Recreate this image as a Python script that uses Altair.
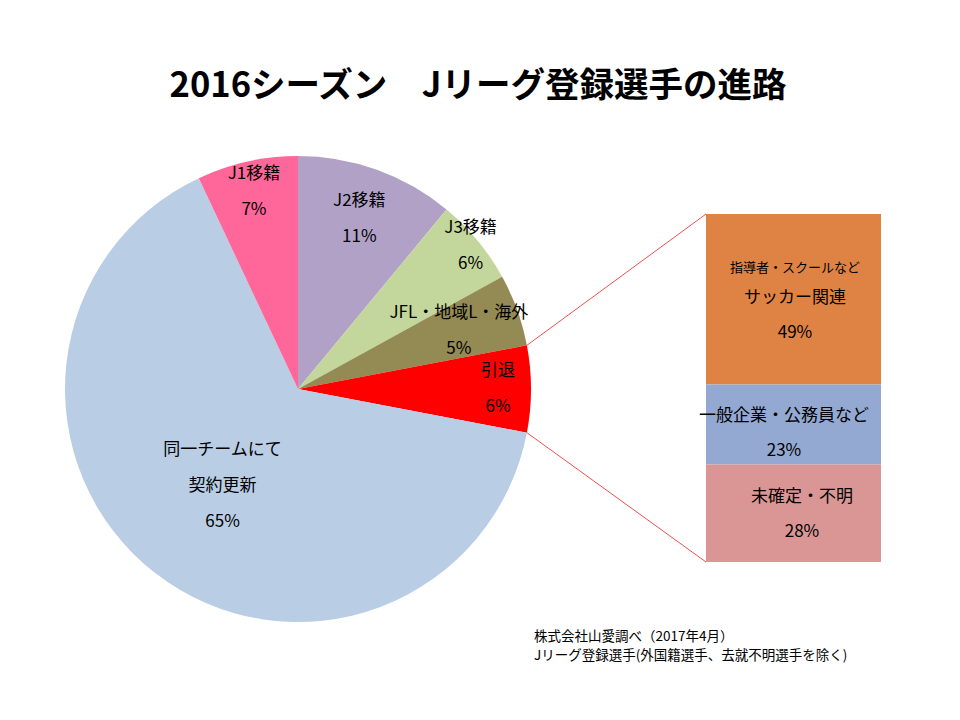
import math
import altair as alt
import pandas as pd

# ---- data ----
slice_names = ["J2移籍", "J3移籍", "JFL・地域L・海外", "引退", "同一チームにて契約更新", "J1移籍"]
slice_values = [11, 6, 5, 6, 65, 7]
slice_labels = ["J2移籍\n11%", "J3移籍\n6%", "JFL・地域L・海外\n5%", "引退\n6%",
                "同一チームにて\n契約更新\n65%", "J1移籍\n7%"]
slice_colors = ["#B2A1C7", "#C3D69B", "#948A54", "#FF0000", "#B9CDE5", "#FF6699"]

bar_names = ["サッカー関連", "一般企業・公務員など", "未確定・不明"]
bar_values = [49, 23, 28]
bar_labels = ["サッカー関連\n49%", "一般企業・公務員など\n23%", "未確定・不明\n28%"]
bar_sub_label = "指導者・スクールなど"
bar_colors = ["#DE8344", "#93A9D2", "#D99694"]

title_text = "2016シーズン\u3000Jリーグ登録選手の進路"
note_text = "株式会社山愛調べ（2017年4月）\nJリーグ登録選手(外国籍選手、去就不明選手を除く)"

# ---- layout ----
FONT = "Noto Sans CJK JP"
W, H = 944, 704
CX, CY, R = 290, 381, 233
label_radius = [181, 224, 171, 200, 123, 202]
LINE_H = 36
BAR_X = [698, 873]
BAR_Y = [206, 554]
bar_dx = [1.5, -9.5, 8.5]
bar_dy = [-1, -8.5, -16.3]

total = sum(slice_values)
pie_df = pd.DataFrame({
    "name": slice_names, "value": slice_values, "label": slice_labels,
    "idx": list(range(len(slice_names))), "lr": label_radius,
    "nl": [s.count("\n") + 1 for s in slice_labels],
})

pie = alt.Chart(pie_df).mark_arc(radius=R).encode(
    theta=alt.Theta("value:Q", stack=True),
    order=alt.Order("idx:Q"),
    color=alt.Color("name:N", scale=alt.Scale(domain=slice_names, range=slice_colors), legend=None),
    x=alt.value(CX), y=alt.value(CY),
)

pie_base = alt.Chart(pie_df).transform_window(
    cum="sum(value)", sort=[alt.SortField("idx")]
).transform_calculate(mid="datum.cum - datum.value / 2")

pie_texts = []
for n in sorted(set(pie_df["nl"])):
    pie_texts.append(
        pie_base.transform_filter(alt.datum.nl == n).mark_text(
            font=FONT, fontSize=17, color="#000000", lineBreak="\n", lineHeight=LINE_H,
            align="center", baseline="middle", dy=-(n - 1) * LINE_H / 2,
        ).encode(
            theta=alt.Theta("mid:Q", stack=False, scale=alt.Scale(domain=[0, total])),
            radius=alt.Radius("lr:Q", scale=None),
            text="label:N",
            x=alt.value(CX), y=alt.value(CY),
        )
    )

bar_df = pd.DataFrame({
    "name": bar_names, "value": bar_values, "label": bar_labels,
    "idx": list(range(len(bar_names))), "group": ["引退"] * len(bar_names),
})
xs = alt.Scale(range=BAR_X, paddingInner=0, paddingOuter=0)
ys = alt.Scale(domain=[0, 100], range=BAR_Y)

bar = alt.Chart(bar_df).mark_bar().encode(
    x=alt.X("group:N", scale=xs, axis=None),
    y=alt.Y("value:Q", stack=True, scale=ys, axis=None),
    order=alt.Order("idx:Q"),
    color=alt.Color("name:N", scale=alt.Scale(domain=bar_names, range=bar_colors), legend=None),
)

base_bt = alt.Chart(bar_df).transform_window(
    cum="sum(value)", sort=[alt.SortField("idx")]
).transform_calculate(mid="datum.cum - datum.value / 2")

bar_texts = []
for i, nm in enumerate(bar_names):
    bar_texts.append(
        base_bt.transform_filter(alt.datum.name == nm).mark_text(
            font=FONT, fontSize=17, color="#000000", lineBreak="\n", lineHeight=35,
            align="center", baseline="middle", dx=bar_dx[i], dy=bar_dy[i],
        ).encode(
            x=alt.X("group:N", scale=xs, axis=None),
            y=alt.Y("mid:Q", scale=ys, axis=None),
            text="label:N",
        )
    )
sub_text = base_bt.transform_filter(alt.datum.name == bar_names[0]).transform_calculate(
    sub=f"'{bar_sub_label}'"
).mark_text(
    font=FONT, fontSize=13, color="#000000", align="center", baseline="middle", dx=1.5, dy=-31,
).encode(
    x=alt.X("group:N", scale=xs, axis=None),
    y=alt.Y("mid:Q", scale=ys, axis=None),
    text="sub:N",
)

# connector lines from the 引退 slice edges to the bar corners
start = sum(slice_values[:3]) / total * 2 * math.pi
end = sum(slice_values[:4]) / total * 2 * math.pi
rules_df = pd.DataFrame({
    "x": [CX + R * math.sin(start), CX + R * math.sin(end)],
    "y": [CY - R * math.cos(start), CY - R * math.cos(end)],
    "x2": [BAR_X[0], BAR_X[0]],
    "y2": [BAR_Y[0], BAR_Y[1]],
})
rules = alt.Chart(rules_df).mark_rule(color="#F0504F", strokeWidth=1).encode(
    x=alt.X("x:Q", scale=None), y=alt.Y("y:Q", scale=None),
    x2="x2:Q", y2="y2:Q",
)

title = alt.Chart(pd.DataFrame({"t": [title_text]})).mark_text(
    font=FONT, fontSize=34.5, fontWeight="bold", color="#000000", align="center", baseline="middle",
).encode(text="t:N", x=alt.value(470), y=alt.value(79))

note = alt.Chart(pd.DataFrame({"t": [note_text]})).mark_text(
    font=FONT, fontSize=13.5, color="#000000", align="left", baseline="middle",
    lineBreak="\n", lineHeight=19,
).encode(text="t:N", x=alt.value(526), y=alt.value(629))

chart = alt.layer(
    rules, pie, *pie_texts, bar, *bar_texts, sub_text, title, note
).resolve_scale(
    x="independent", y="independent", color="independent", theta="independent", radius="independent"
).properties(
    width=W, height=H, autosize=alt.AutoSizeParams(type="none"), padding=0,
).configure_view(stroke=None)

chart.save("out.html", embed_options={"renderer": "svg", "actions": False})
